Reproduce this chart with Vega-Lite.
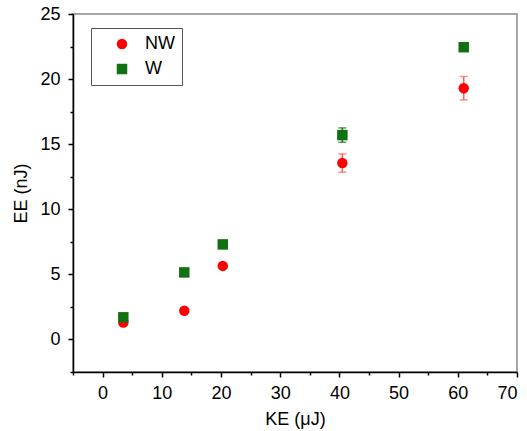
{
  "$schema": "https://vega.github.io/schema/vega-lite/v6.json",
  "autosize": "none",
  "width": 444,
  "height": 358,
  "padding": {"left": 73, "top": 14, "right": 10, "bottom": 59},
  "background": "white",
  "config": {
    "view": {"stroke": "#888888", "strokeWidth": 1.5},
    "font": "Liberation Sans",
    "axis": {"grid": false, "domainColor": "black", "tickColor": "black", "domainWidth": 1.5, "tickWidth": 1.5, "labelFont": "Liberation Sans", "titleFont": "Liberation Sans", "labelFontSize": 18, "titleFontSize": 18, "titleFontWeight": "normal", "labelColor": "black", "titleColor": "black"}
  },
  "data": {
    "values": [
      {"ke": 3.5, "ee": 1.3, "lo": 1.1, "hi": 1.5, "series": "NW"},
      {"ke": 13.8, "ee": 2.2, "lo": 2.2, "hi": 2.2, "series": "NW"},
      {"ke": 20.3, "ee": 5.65, "lo": 5.65, "hi": 5.65, "series": "NW"},
      {"ke": 40.5, "ee": 13.55, "lo": 12.85, "hi": 14.25, "series": "NW"},
      {"ke": 61.0, "ee": 19.3, "lo": 18.4, "hi": 20.2, "series": "NW"},
      {"ke": 3.5, "ee": 1.7, "lo": 1.7, "hi": 1.7, "series": "W"},
      {"ke": 13.8, "ee": 5.15, "lo": 5.15, "hi": 5.15, "series": "W"},
      {"ke": 20.3, "ee": 7.3, "lo": 7.3, "hi": 7.3, "series": "W"},
      {"ke": 40.5, "ee": 15.7, "lo": 15.15, "hi": 16.25, "series": "W"},
      {"ke": 61.0, "ee": 22.45, "lo": 22.2, "hi": 22.7, "series": "W"}
    ]
  },
  "layer": [
    {
      "mark": {"type": "rule", "strokeWidth": 1.5},
      "encoding": {
        "x": {"field": "ke", "type": "quantitative", "scale": {"domain": [-5, 70], "nice": false}, "axis": {"orient": "bottom", "values": [-5, 5, 15, 25, 35, 45, 55, 65], "labels": false, "domain": false, "tickSize": 3, "title": null}},
        "y": {"field": "lo", "type": "quantitative", "scale": {"domain": [-2.5, 25], "nice": false, "zero": false}, "axis": {"orient": "left", "values": [-2.5, 2.5, 7.5, 12.5, 17.5, 22.5], "labels": false, "domain": false, "tickSize": 3, "title": null}},
        "y2": {"field": "hi"},
        "color": {"field": "series", "type": "nominal", "scale": {"domain": ["NW", "W"], "range": ["#ff5c5c", "#137313"]}, "legend": null}
      }
    },
    {
      "mark": {"type": "tick", "thickness": 1.5, "size": 8, "orient": "horizontal"},
      "encoding": {
        "x": {"field": "ke", "type": "quantitative", "axis": null},
        "y": {"field": "lo", "type": "quantitative", "axis": null},
        "color": {"field": "series", "type": "nominal", "scale": {"domain": ["NW", "W"], "range": ["#ff5c5c", "#137313"]}, "legend": null}
      }
    },
    {
      "mark": {"type": "tick", "thickness": 1.5, "size": 8, "orient": "horizontal"},
      "encoding": {
        "x": {"field": "ke", "type": "quantitative", "axis": null},
        "y": {"field": "hi", "type": "quantitative", "axis": null},
        "color": {"field": "series", "type": "nominal", "scale": {"domain": ["NW", "W"], "range": ["#ff5c5c", "#137313"]}, "legend": null}
      }
    },
    {
      "mark": {"type": "point", "filled": true, "opacity": 1, "size": 110},
      "encoding": {
        "x": {"field": "ke", "type": "quantitative", "axis": {"orient": "bottom", "values": [0, 10, 20, 30, 40, 50, 60, 70], "tickSize": 5, "labelPadding": 7, "title": "KE (μJ)", "titlePadding": 8}},
        "y": {"field": "ee", "type": "quantitative", "axis": {"orient": "left", "values": [0, 5, 10, 15, 20, 25], "tickSize": 5, "labelPadding": 8, "title": "EE (nJ)", "titlePadding": 9}},
        "color": {"field": "series", "type": "nominal", "scale": {"domain": ["NW", "W"], "range": ["#ff0000", "#117011"]}, "legend": {"title": null, "orient": "none", "legendX": 18, "legendY": 14, "strokeColor": "#555555", "padding": 7, "symbolOffset": 15, "labelOffset": 14, "labelFontSize": 18, "labelFont": "Liberation Sans", "labelColor": "black", "rowPadding": 7, "symbolSize": 110, "encode": {"labels": {"update": {"text": {"signal": "datum.label + '\u00a0\u00a0\u00a0\u00a0\u00a0\u00a0\u00a0'"}}}}}},
        "shape": {"field": "series", "type": "nominal", "scale": {"domain": ["NW", "W"], "range": ["circle", "square"]}, "legend": {"title": null, "orient": "none", "legendX": 18, "legendY": 14, "strokeColor": "#555555", "padding": 7, "symbolOffset": 15, "labelOffset": 14, "labelFontSize": 18, "labelFont": "Liberation Sans", "labelColor": "black", "rowPadding": 7, "symbolSize": 110, "encode": {"labels": {"update": {"text": {"signal": "datum.label + '\u00a0\u00a0\u00a0\u00a0\u00a0\u00a0\u00a0'"}}}}}}
      }
    }
  ],
  "resolve": {"scale": {"color": "independent", "shape": "independent"}, "axis": {"x": "independent", "y": "independent"}}
}
